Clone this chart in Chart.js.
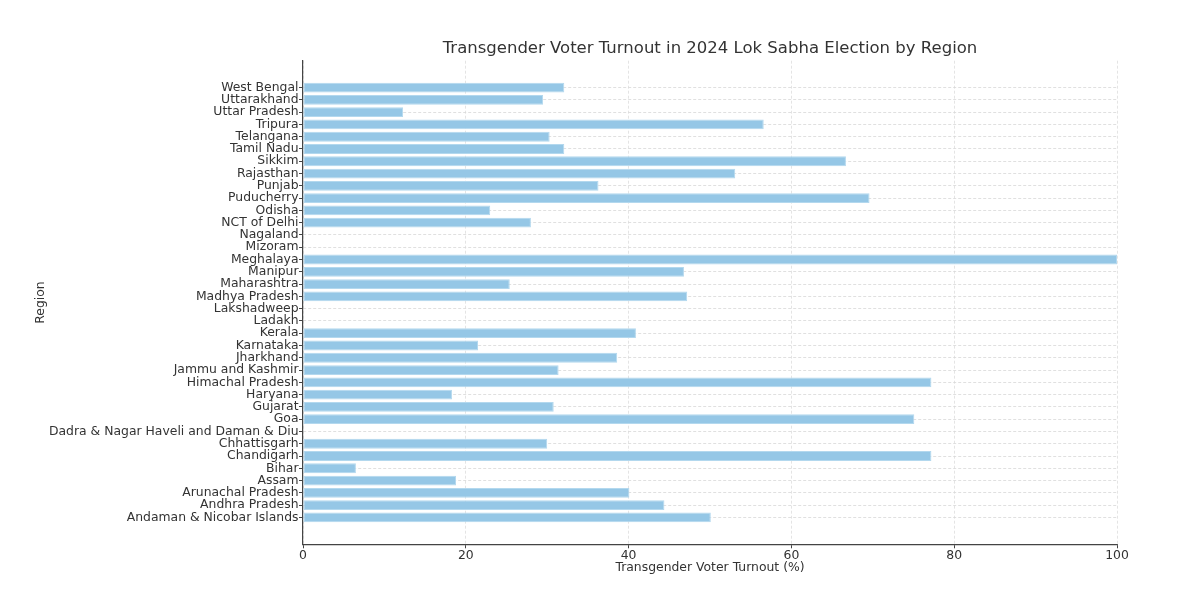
<!DOCTYPE html>
<html>
<head>
<meta charset="utf-8">
<script src="https://cdn.jsdelivr.net/npm/chart.js@4.4.1/dist/chart.umd.min.js"></script>
<style>
  html, body { margin: 0; padding: 0; background: #fff; }
  #wrap { width: 1200px; height: 590px; }
</style>
</head>
<body>
<div id="wrap"><canvas id="grafica"></canvas></div>
<script>
// regiones, de abajo hacia arriba
const regiones = [
  "Andaman & Nicobar Islands", "Andhra Pradesh", "Arunachal Pradesh", "Assam", "Bihar",
  "Chandigarh", "Chhattisgarh", "Dadra & Nagar Haveli and Daman & Diu", "Goa", "Gujarat",
  "Haryana", "Himachal Pradesh", "Jammu and Kashmir", "Jharkhand", "Karnataka",
  "Kerala", "Ladakh", "Lakshadweep", "Madhya Pradesh", "Maharashtra",
  "Manipur", "Meghalaya", "Mizoram", "Nagaland", "NCT of Delhi",
  "Odisha", "Puducherry", "Punjab", "Rajasthan", "Sikkim",
  "Tamil Nadu", "Telangana", "Tripura", "Uttar Pradesh", "Uttarakhand", "West Bengal"
];

const participacion = [
  50.1, 44.4, 40.1, 18.8, 6.5,
  77.2, 30.0, 0, 75.1, 30.8,
  18.3, 77.2, 31.4, 38.6, 21.5,
  40.9, 0, 0, 47.2, 25.4,
  46.8, 100, 0, 0, 28.0,
  23.0, 69.6, 36.3, 53.1, 66.7,
  32.1, 30.3, 56.6, 12.3, 29.5, 32.1
];

const ticksX = [0, 20, 40, 60, 80, 100];

const titulo = 'Transgender Voter Turnout in 2024 Lok Sabha Election by Region';
const fuente = "'DejaVu Sans', sans-serif";
const colorTexto = '#333333';

const puntos = participacion.map((v, i) => ({ x: v, y: i }));

// titulo centrado sobre el area del grafico
const tituloPlugin = {
  id: 'tituloCentrado',
  afterDraw: (chart) => {
    const c = chart.ctx;
    const area = chart.chartArea;
    c.save();
    c.font = '16.5px ' + fuente;
    c.fillStyle = colorTexto;
    c.textAlign = 'center';
    c.textBaseline = 'middle';
    c.fillText(titulo, (area.left + area.right) / 2, 49);
    c.restore();
  }
};

const ctx = document.getElementById('grafica').getContext('2d');

new Chart(ctx, {
  type: 'bar',
  data: {
    datasets: [{
      label: 'Turnout',
      data: puntos,
      backgroundColor: '#95c7e6',
      borderColor: '#b3d8ee',
      borderWidth: 1,
      borderSkipped: false,
      categoryPercentage: 0.8,
      barPercentage: 1.0
    }]
  },
  options: {
    indexAxis: 'y',
    responsive: true,
    maintainAspectRatio: false,
    animation: false,
    layout: { padding: { left: 0, right: 83, top: 60.7, bottom: 0 } },
    plugins: {
      legend: { display: false },
      tooltip: { enabled: false },
      title: { display: false }
    },
    scales: {
      x: {
        type: 'linear',
        min: 0,
        max: 100,
        afterBuildTicks: (scale) => { scale.ticks = ticksX.map(v => ({ value: v })) },
        afterFit: (scale) => { scale.height = 45.7 },
        ticks: { color: colorTexto, font: { family: fuente, size: 12.4 }, padding: 0 },
        grid: { color: '#dddddd', tickColor: '#444444', tickLength: 4, lineWidth: 0.8, tickWidth: 1 },
        border: { display: true, color: '#444444', width: 1.2, dash: [3, 2] },
        title: {
          display: true,
          text: 'Transgender Voter Turnout (%)',
          color: colorTexto,
          font: { family: fuente, size: 12.4 },
          padding: { top: 2, bottom: 15 }
        }
      },
      y: {
        type: 'linear',
        offset: false,
        min: -2.19,
        max: 37.19,
        afterBuildTicks: (scale) => { scale.ticks = regiones.map((r, i) => ({ value: i })) },
        afterFit: (scale) => {
          scale.width = 303
          scale.paddingTop = 0
          scale.paddingBottom = 0
        },
        ticks: {
          color: colorTexto,
          font: { family: fuente, size: 12.4 },
          padding: 0.5,
          autoSkip: false,
          callback: (valor) => regiones[valor]
        },
        grid: { offset: false, color: '#d8d8d8', tickColor: '#444444', tickLength: 4, lineWidth: 0.8, tickWidth: 1 },
        border: { display: true, color: '#444444', width: 1.2, dash: [3, 2] },
        title: {
          display: true,
          text: 'Region',
          color: colorTexto,
          font: { family: fuente, size: 12.4 },
          padding: { top: 33, bottom: 0 }
        }
      }
    }
  },
  plugins: [tituloPlugin]
});
</script>
</body>
</html>
